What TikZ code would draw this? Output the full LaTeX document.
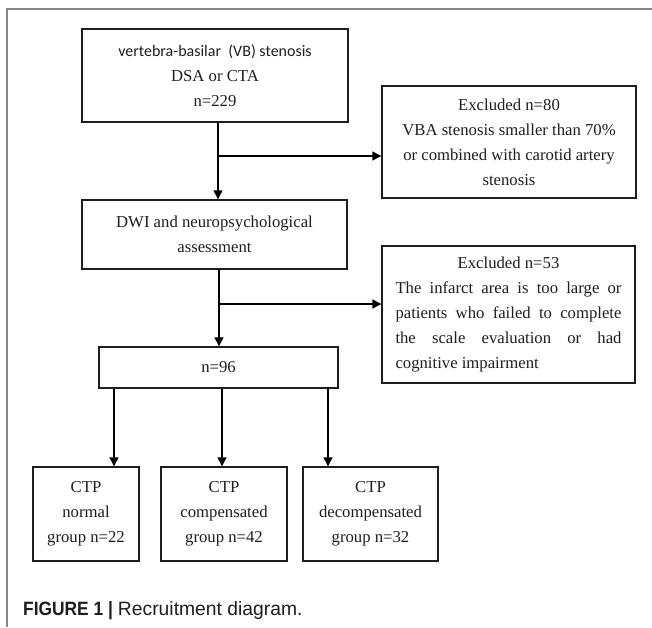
\documentclass[tikz,border=0pt]{standalone}
\usepackage{fontspec}
\setmainfont{Liberation Serif}
\newfontfamily\calfont{Carlito}
\newfontfamily\capfont{Liberation Sans}
\newfontfamily\capbold[FakeStretch=0.9]{Liberation Sans Bold}
\usetikzlibrary{arrows.meta,calc}
\definecolor{framegray}{RGB}{135,135,135}
\definecolor{ink}{RGB}{30,30,30}
\begin{document}
\begin{tikzpicture}[x=1pt,y=-1pt,
  box/.style={draw=ink, line width=1.1pt, inner sep=0pt, align=center, text=ink,
    font=\fontsize{16.7}{25}\selectfont},
  arr/.style={draw=black, line width=2.2pt, -{Triangle[length=9pt,width=8.5pt]}}]
\useasboundingbox (0,0) rectangle (652,627);
\draw[framegray, line width=2pt] (652,9) -- (7,9) -- (7,627);

\node[box, minimum width=266pt, minimum height=93pt] (top) at (215,75.5)
  {{\calfont\fontsize{16}{25}\selectfont vertebra-basilar\ \ (VB) stenosis}\\DSA or CTA\\n=229};
\node[box, minimum width=254pt, minimum height=112pt] (ex1) at (509,142)
  {Excluded n=80\\VBA stenosis smaller than 70\%\\or combined with carotid artery\\stenosis};
\node[box, minimum width=265pt, minimum height=69pt] (dwi) at (214.5,234.5)
  {DWI and neuropsychological\\assessment};
\node[box, minimum width=253pt, minimum height=137pt] (ex2) at (508.5,314.5)
  {Excluded n=53\\
   \makebox[226pt][s]{The infarct area is too large or}\\
   \makebox[226pt][s]{patients who failed to complete}\\
   \makebox[226pt][s]{the scale evaluation or had}\\
   \makebox[226pt][l]{cognitive impairment}};
\node[box, minimum width=239pt, minimum height=41pt] (n96) at (218.5,367.5) {n=96};
\node[box, minimum width=106pt, minimum height=94pt] (g1) at (86,514)
  {CTP\\normal\\group n=22};
\node[box, minimum width=126pt, minimum height=94pt] (g2) at (224,514)
  {CTP\\compensated\\group n=42};
\node[box, minimum width=135pt, minimum height=94pt] (g3) at (370.5,514)
  {CTP\\decompensated\\group n=32};

\coordinate (m1) at (218,0);
\coordinate (m2) at (219,0);
\coordinate (b1) at (218,156);
\coordinate (b2) at (219,304);
\coordinate (c1) at (114,0);
\coordinate (c2) at (222,0);
\coordinate (c3) at (328,0);

\draw[arr] (top.south -| m1) -- (dwi.north -| m1);
\draw[arr] (b1) -- (b1 -| ex1.west);
\draw[arr] (dwi.south -| m2) -- (n96.north -| m2);
\draw[arr] (b2) -- (b2 -| ex2.west);
\draw[arr] (n96.south -| c1) -- (g1.north -| c1);
\draw[arr] (n96.south -| c2) -- (g2.north -| c2);
\draw[arr] (n96.south -| c3) -- (g3.north -| c3);

\node[anchor=base west, inner sep=0pt, text=ink] (cap) at (23,615)
  {\fontsize{19.3}{22}\selectfont{\capbold FIGURE 1 |}\hspace{5pt}\capfont Recruitment diagram.};
\end{tikzpicture}
\end{document}
